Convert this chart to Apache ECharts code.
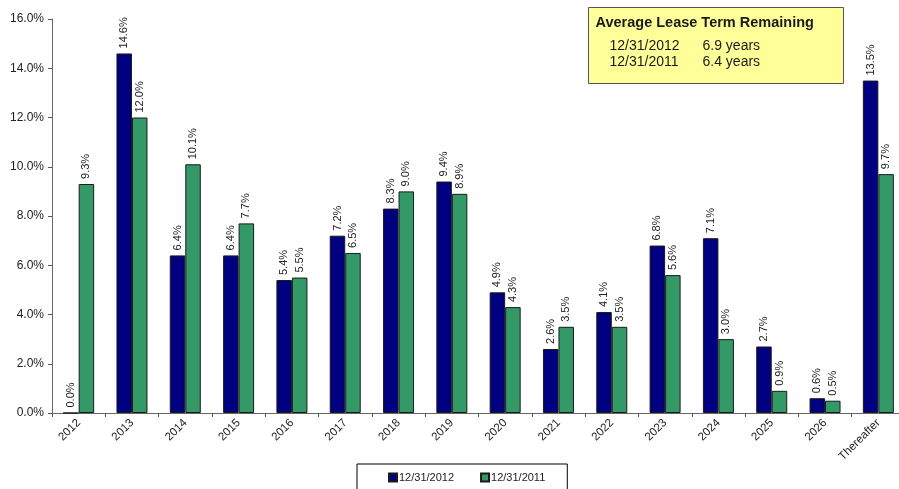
<!DOCTYPE html>
<html>
<head>
<meta charset="utf-8">
<script src="https://cdn.jsdelivr.net/npm/echarts@6/dist/echarts.min.js"></script>
<style>
  html, body { margin: 0; padding: 0; background: #fff; overflow: hidden; }
  /* the plot runs a few pixels past the right edge of the window */
  #chart { width: 905px; height: 489px; }
</style>
</head>
<body>
<div id="chart"></div>
<script>
// Lease expirations by year, as a share of the portfolio
const categories = ['2012', '2013', '2014', '2015', '2016', '2017', '2018', '2019', '2020', '2021', '2022', '2023', '2024', '2025', '2026', 'Thereafter'];
const seriesNames = ['12/31/2012', '12/31/2011'];
const values2012 = [0.0, 14.6, 6.4, 6.4, 5.4, 7.2, 8.3, 9.4, 4.9, 2.6, 4.1, 6.8, 7.1, 2.7, 0.6, 13.5];
const values2011 = [9.3, 12.0, 10.1, 7.7, 5.5, 6.5, 9.0, 8.9, 4.3, 3.5, 3.5, 5.6, 3.0, 0.9, 0.5, 9.7];
const boxTitle = 'Average Lease Term Remaining';
const boxRows = [['12/31/2012', '6.9 years'], ['12/31/2011', '6.4 years']];

const FONT = 'Liberation Sans, Arial, sans-serif';
const colors = ['#000080', '#339966'];

const chart = echarts.init(document.getElementById('chart'), null, { renderer: 'canvas' });

function barSeries(name, data, color) {
  return {
    name: name,
    type: 'bar',
    data: data,
    barWidth: 15.5,
    barGap: '0%',
    itemStyle: { color: color, borderColor: '#1a1a1a', borderWidth: 1 },
    label: {
      show: true,
      position: 'top',
      rotate: 90,
      align: 'left',
      verticalAlign: 'middle',
      distance: 5,
      fontFamily: FONT,
      fontSize: 11,
      color: '#222',
      formatter: p => p.value.toFixed(1) + '%'
    }
  };
}

chart.setOption({
  animation: false,
  backgroundColor: '#fff',
  textStyle: { fontFamily: FONT },
  grid: { left: 52, top: 19, bottom: 76, right: 0, containLabel: false },
  xAxis: {
    type: 'category',
    data: categories,
    axisLine: { lineStyle: { color: '#666', width: 1 } },
    axisTick: { show: true, alignWithLabel: false, length: 4, lineStyle: { color: '#555' } },
    axisLabel: { rotate: 45, fontFamily: FONT, fontSize: 11.5, color: '#222', margin: 8, interval: 0 }
  },
  yAxis: {
    type: 'value',
    min: 0,
    max: 16,
    interval: 2,
    splitLine: { show: false },
    axisLine: { show: true, lineStyle: { color: '#666', width: 1 } },
    axisTick: { show: true, length: 4, lineStyle: { color: '#555' } },
    axisLabel: { fontFamily: FONT, fontSize: 12, color: '#222', margin: 8, formatter: v => v.toFixed(1) + '%' }
  },
  legend: {
    data: seriesNames,
    bottom: -4,
    left: 357,
    itemWidth: 8,
    itemHeight: 8,
    itemGap: 26,
    padding: [8, 22, 10, 31],
    borderColor: '#000',
    borderWidth: 1,
    icon: 'rect',
    textStyle: { fontFamily: FONT, fontSize: 11, color: '#222', padding: [0, 0, 0, -3] }
  },
  series: [
    barSeries(seriesNames[0], values2012, colors[0]),
    barSeries(seriesNames[1], values2011, colors[1])
  ],
  graphic: [
    {
      type: 'group',
      left: 588,
      top: 7,
      children: [
        { type: 'rect', shape: { x: 0, y: 0, width: 255, height: 76 }, style: { fill: '#FFFF99', stroke: '#555', lineWidth: 1 } },
        { type: 'text', x: 7, y: 8, style: { text: boxTitle, font: 'bold 14.5px ' + FONT, fill: '#1a1a1a' } },
        { type: 'text', x: 21, y: 32, style: { text: boxRows[0][0], font: '14px ' + FONT, fill: '#1a1a1a' } },
        { type: 'text', x: 114, y: 32, style: { text: boxRows[0][1], font: '14px ' + FONT, fill: '#1a1a1a' } },
        { type: 'text', x: 21, y: 48, style: { text: boxRows[1][0], font: '14px ' + FONT, fill: '#1a1a1a' } },
        { type: 'text', x: 114, y: 48, style: { text: boxRows[1][1], font: '14px ' + FONT, fill: '#1a1a1a' } }
      ]
    }
  ]
});
</script>
</body>
</html>
